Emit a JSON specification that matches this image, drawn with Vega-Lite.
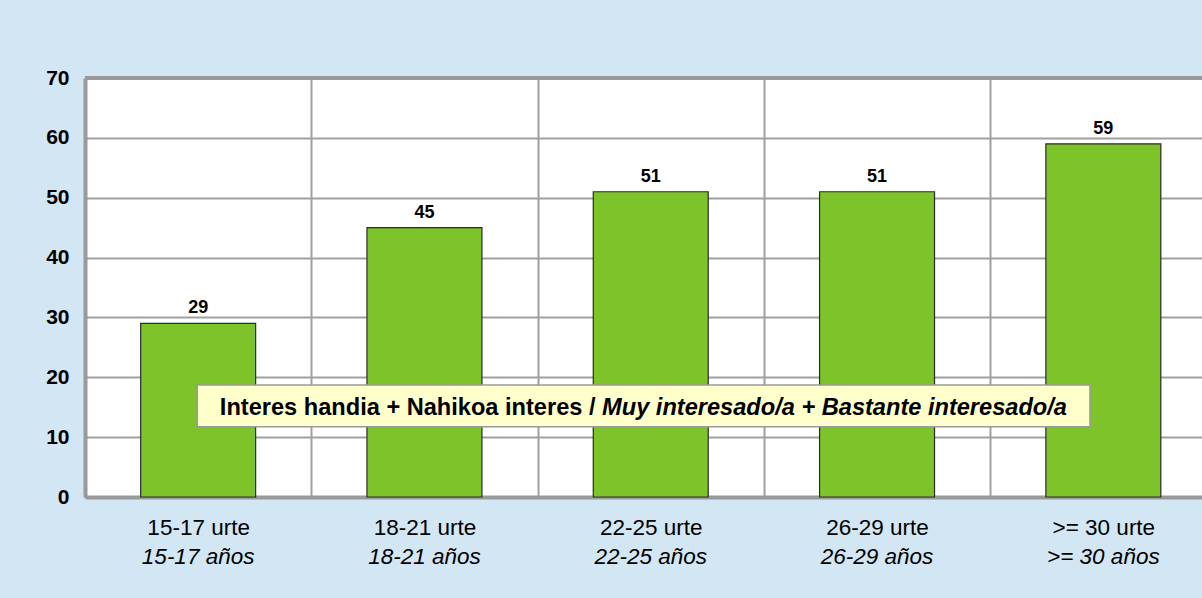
{
  "$schema": "https://vega.github.io/schema/vega-lite/v6.json",
  "width": 1117,
  "height": 419,
  "autosize": {"type": "none"},
  "padding": {"left": 85, "top": 78, "right": 0, "bottom": 101},
  "background": "#D3E6F4",
  "config": {"view": {"stroke": null, "fill": "white"}, "font": "Liberation Sans"},
  "data": {"values": [
    {"cat": "15-17 urte", "es": "15-17 años", "v": 29},
    {"cat": "18-21 urte", "es": "18-21 años", "v": 45},
    {"cat": "22-25 urte", "es": "22-25 años", "v": 51},
    {"cat": "26-29 urte", "es": "26-29 años", "v": 51},
    {"cat": ">= 30 urte", "es": ">= 30 años", "v": 59}
  ]},
  "layer": [
    {
      "layer": [
        {
          "mark": {"type": "bar", "width": {"band": 0.508}, "fill": "#7DC32A", "stroke": "#2b2b2b", "strokeWidth": 1.2},
          "encoding": {
            "x": {"field": "cat", "type": "nominal", "sort": null,
              "scale": {"range": [0, 1131.5], "paddingInner": 0, "paddingOuter": 0},
              "axis": {"title": null, "grid": true, "tickBand": "extent", "gridColor": "#A0A0A0", "gridWidth": 2,
                "ticks": false, "tickSize": 0, "domainColor": "#999999", "domainWidth": 4,
                "labelFontSize": 22.5, "labelColor": "#000000", "labelPadding": 37, "labelBaseline": "alphabetic",
                "labelAngle": 0, "labelFont": "Liberation Sans", "labelOverlap": false, "labelLimit": 300}},
            "y": {"field": "v", "type": "quantitative",
              "scale": {"domain": [0, 70], "nice": false},
              "axis": {"title": null, "values": [0, 10, 20, 30, 40, 50, 60, 70], "grid": true, "gridColor": "#A0A0A0", "gridWidth": 2,
                "ticks": false, "domainColor": "#999999", "domainWidth": 4,
                "labelFontSize": 21, "labelFontWeight": "bold", "labelColor": "#000000", "labelPadding": 16,
                "labelFont": "Liberation Sans"}}
          }
        },
        {
          "mark": {"type": "text", "dy": -10, "baseline": "alphabetic", "fontWeight": "bold", "fontSize": 18, "color": "#000000", "font": "Liberation Sans"},
          "encoding": {
            "x": {"field": "cat", "type": "nominal", "sort": null},
            "y": {"field": "v", "type": "quantitative"},
            "text": {"field": "v"}
          }
        },
        {
          "mark": {"type": "text", "dy": 67, "baseline": "alphabetic", "fontStyle": "italic", "fontSize": 22.5, "color": "#000000", "font": "Liberation Sans"},
          "encoding": {
            "x": {"field": "cat", "type": "nominal", "sort": null},
            "y": {"datum": 0, "type": "quantitative"},
            "text": {"field": "es"}
          }
        },
        {
          "mark": {"type": "rule", "stroke": "#999999", "strokeWidth": 4},
          "encoding": {"y": {"datum": 70, "type": "quantitative"}}
        }
      ]
    },
    {
      "data": {"values": [
        {"t1": "Interes handia + Nahikoa interes /", "t2": "Muy interesado/a + Bastante interesado/a"}
      ]},
      "layer": [
        {
          "mark": {"type": "rect", "fill": "#FFFFCC", "stroke": "#9A9A9A", "strokeWidth": 1.5},
          "encoding": {
            "x": {"datum": 0.496, "type": "quantitative", "scale": {"domain": [0, 5], "range": [0, 1131.5], "nice": false, "zero": false}, "axis": null},
            "x2": {"datum": 4.441},
            "y": {"datum": 18.71, "type": "quantitative"},
            "y2": {"datum": 11.74}
          }
        },
        {
          "mark": {"type": "text", "align": "right", "baseline": "alphabetic", "fontWeight": "bold", "fontSize": 23.6, "color": "#000000", "font": "Liberation Sans"},
          "encoding": {
            "x": {"datum": 2.256, "type": "quantitative"},
            "y": {"datum": 13.7, "type": "quantitative"},
            "text": {"field": "t1"}
          }
        },
        {
          "mark": {"type": "text", "align": "left", "baseline": "alphabetic", "fontWeight": "bold", "fontStyle": "italic", "fontSize": 23.6, "color": "#000000", "font": "Liberation Sans"},
          "encoding": {
            "x": {"datum": 2.285, "type": "quantitative"},
            "y": {"datum": 13.7, "type": "quantitative"},
            "text": {"field": "t2"}
          }
        }
      ]
    }
  ],
  "resolve": {"scale": {"x": "independent"}, "axis": {"x": "independent"}}
}
